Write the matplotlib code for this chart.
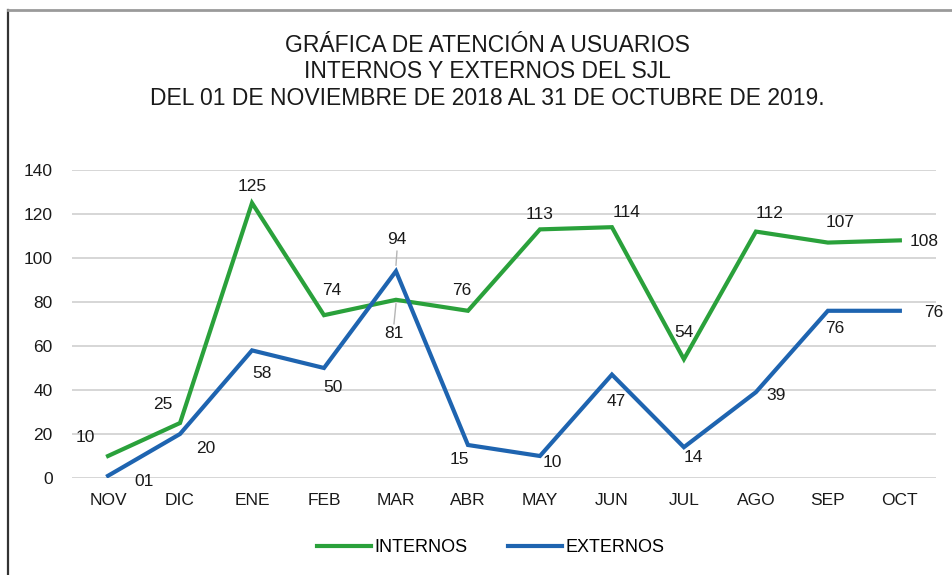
import matplotlib
matplotlib.use("Agg")
import matplotlib.pyplot as plt
from matplotlib.lines import Line2D

months = ["NOV", "DIC", "ENE", "FEB", "MAR", "ABR", "MAY", "JUN", "JUL", "AGO", "SEP", "OCT"]
internos = [10, 25, 125, 74, 81, 76, 113, 114, 54, 112, 107, 108]
externos = [1, 20, 58, 50, 94, 15, 10, 47, 14, 39, 76, 76]
internos_labels = ["10", "25", "125", "74", "81", "76", "113", "114", "54", "112", "107", "108"]
externos_labels = ["01", "20", "58", "50", "94", "15", "10", "47", "14", "39", "76", "76"]
yticks = [0, 20, 40, 60, 80, 100, 120, 140]

title = ("GRÁFICA DE ATENCIÓN A USUARIOS\n"
         "INTERNOS Y EXTERNOS DEL SJL\n"
         "DEL 01 DE NOVIEMBRE DE 2018 AL 31 DE OCTUBRE DE 2019.")

# label offsets in pixels (dx, dy) relative to data point
int_off = [(-23, 18), (-17, 18), (0, 16), (8, 25), (-2, -34), (-6, 20),
           (0, 15), (15, 15), (0, 27), (14, 18), (12, 20), (24, -1)]
ext_off = [(36, -6), (26, -15), (10, -23), (9, -20), (1, 32), (-9, -15),
           (12, -7), (4, -27), (9, -10), (20, -3), (7, -18), (34, -2)]

GREEN = "#2AA13B"
BLUE = "#1E64B0"
TXT = "#1a1a1a"
FONT = "Liberation Sans"

plt.rcParams["font.family"] = [FONT, "DejaVu Sans"]

fig = plt.figure(figsize=(9.53, 5.75), dpi=100)
ax = fig.add_axes([0.0756, 0.1687, 0.9064, 0.5357])

x = list(range(len(months)))
ax.plot(x, internos, color=GREEN, lw=3.0, solid_joinstyle="miter", zorder=3, label="INTERNOS")
ax.plot(x, externos, color=BLUE, lw=3.0, solid_joinstyle="miter", zorder=3, label="EXTERNOS")

ax.set_xlim(-0.5, len(months) - 0.5)
ax.set_ylim(0, 140)
ax.set_yticks(yticks)
ax.set_xticks(x)
ax.set_xticklabels(months)
ax.tick_params(length=0, labelsize=12.5, colors=TXT)
ax.tick_params(axis="x", pad=11)
ax.tick_params(axis="y", pad=14)
ax.grid(axis="y", color="#d6d6d6", lw=1.4, zorder=0)
for s in ax.spines.values():
    s.set_visible(False)

for i, (v, t, o) in enumerate(zip(internos, internos_labels, int_off)):
    ax.annotate(t, (i, v), xytext=o, textcoords="offset pixels",
                ha="center", va="center", fontsize=12.5, color=TXT, zorder=5)
for i, (v, t, o) in enumerate(zip(externos, externos_labels, ext_off)):
    ax.annotate(t, (i, v), xytext=o, textcoords="offset pixels",
                ha="center", va="center", fontsize=12.5, color=TXT, zorder=5)

# leader lines
def leader(xv, yv, dx0, dy0, dx1, dy1):
    px, py = ax.transData.transform((xv, yv))
    inv = ax.transData.inverted()
    a = inv.transform((px + dx0, py + dy0))
    b = inv.transform((px + dx1, py + dy1))
    ax.plot([a[0], b[0]], [a[1], b[1]], color="#b5b5b5", lw=1.0, zorder=2)

leader(4, internos[4], 0, -4, -2, -24)
leader(4, externos[4], 0, 6, 1, 20)
leader(0, externos[0], 4, -2, 24, -4)

fig.text(0.511, 0.875, title, ha="center", va="center", fontsize=16.5,
         color=TXT, linespacing=1.2)

handles = [Line2D([], [], color=GREEN, lw=3.0), Line2D([], [], color=BLUE, lw=3.0)]
fig.legend(handles, ["INTERNOS", "EXTERNOS"], loc="center", bbox_to_anchor=(0.515, 0.047),
           ncol=2, frameon=False, fontsize=13, handlelength=3.0, handletextpad=0.2,
           columnspacing=2.2)

# outer frame (left and top)
fig.add_artist(Line2D([0.0084, 0.0084], [0.0, 0.983], color="#333333", lw=1.6, transform=fig.transFigure))
fig.add_artist(Line2D([0.0084, 1.0], [0.983, 0.983], color="#9a9a9a", lw=2.0, transform=fig.transFigure))

fig.savefig("out.png", dpi=100)
